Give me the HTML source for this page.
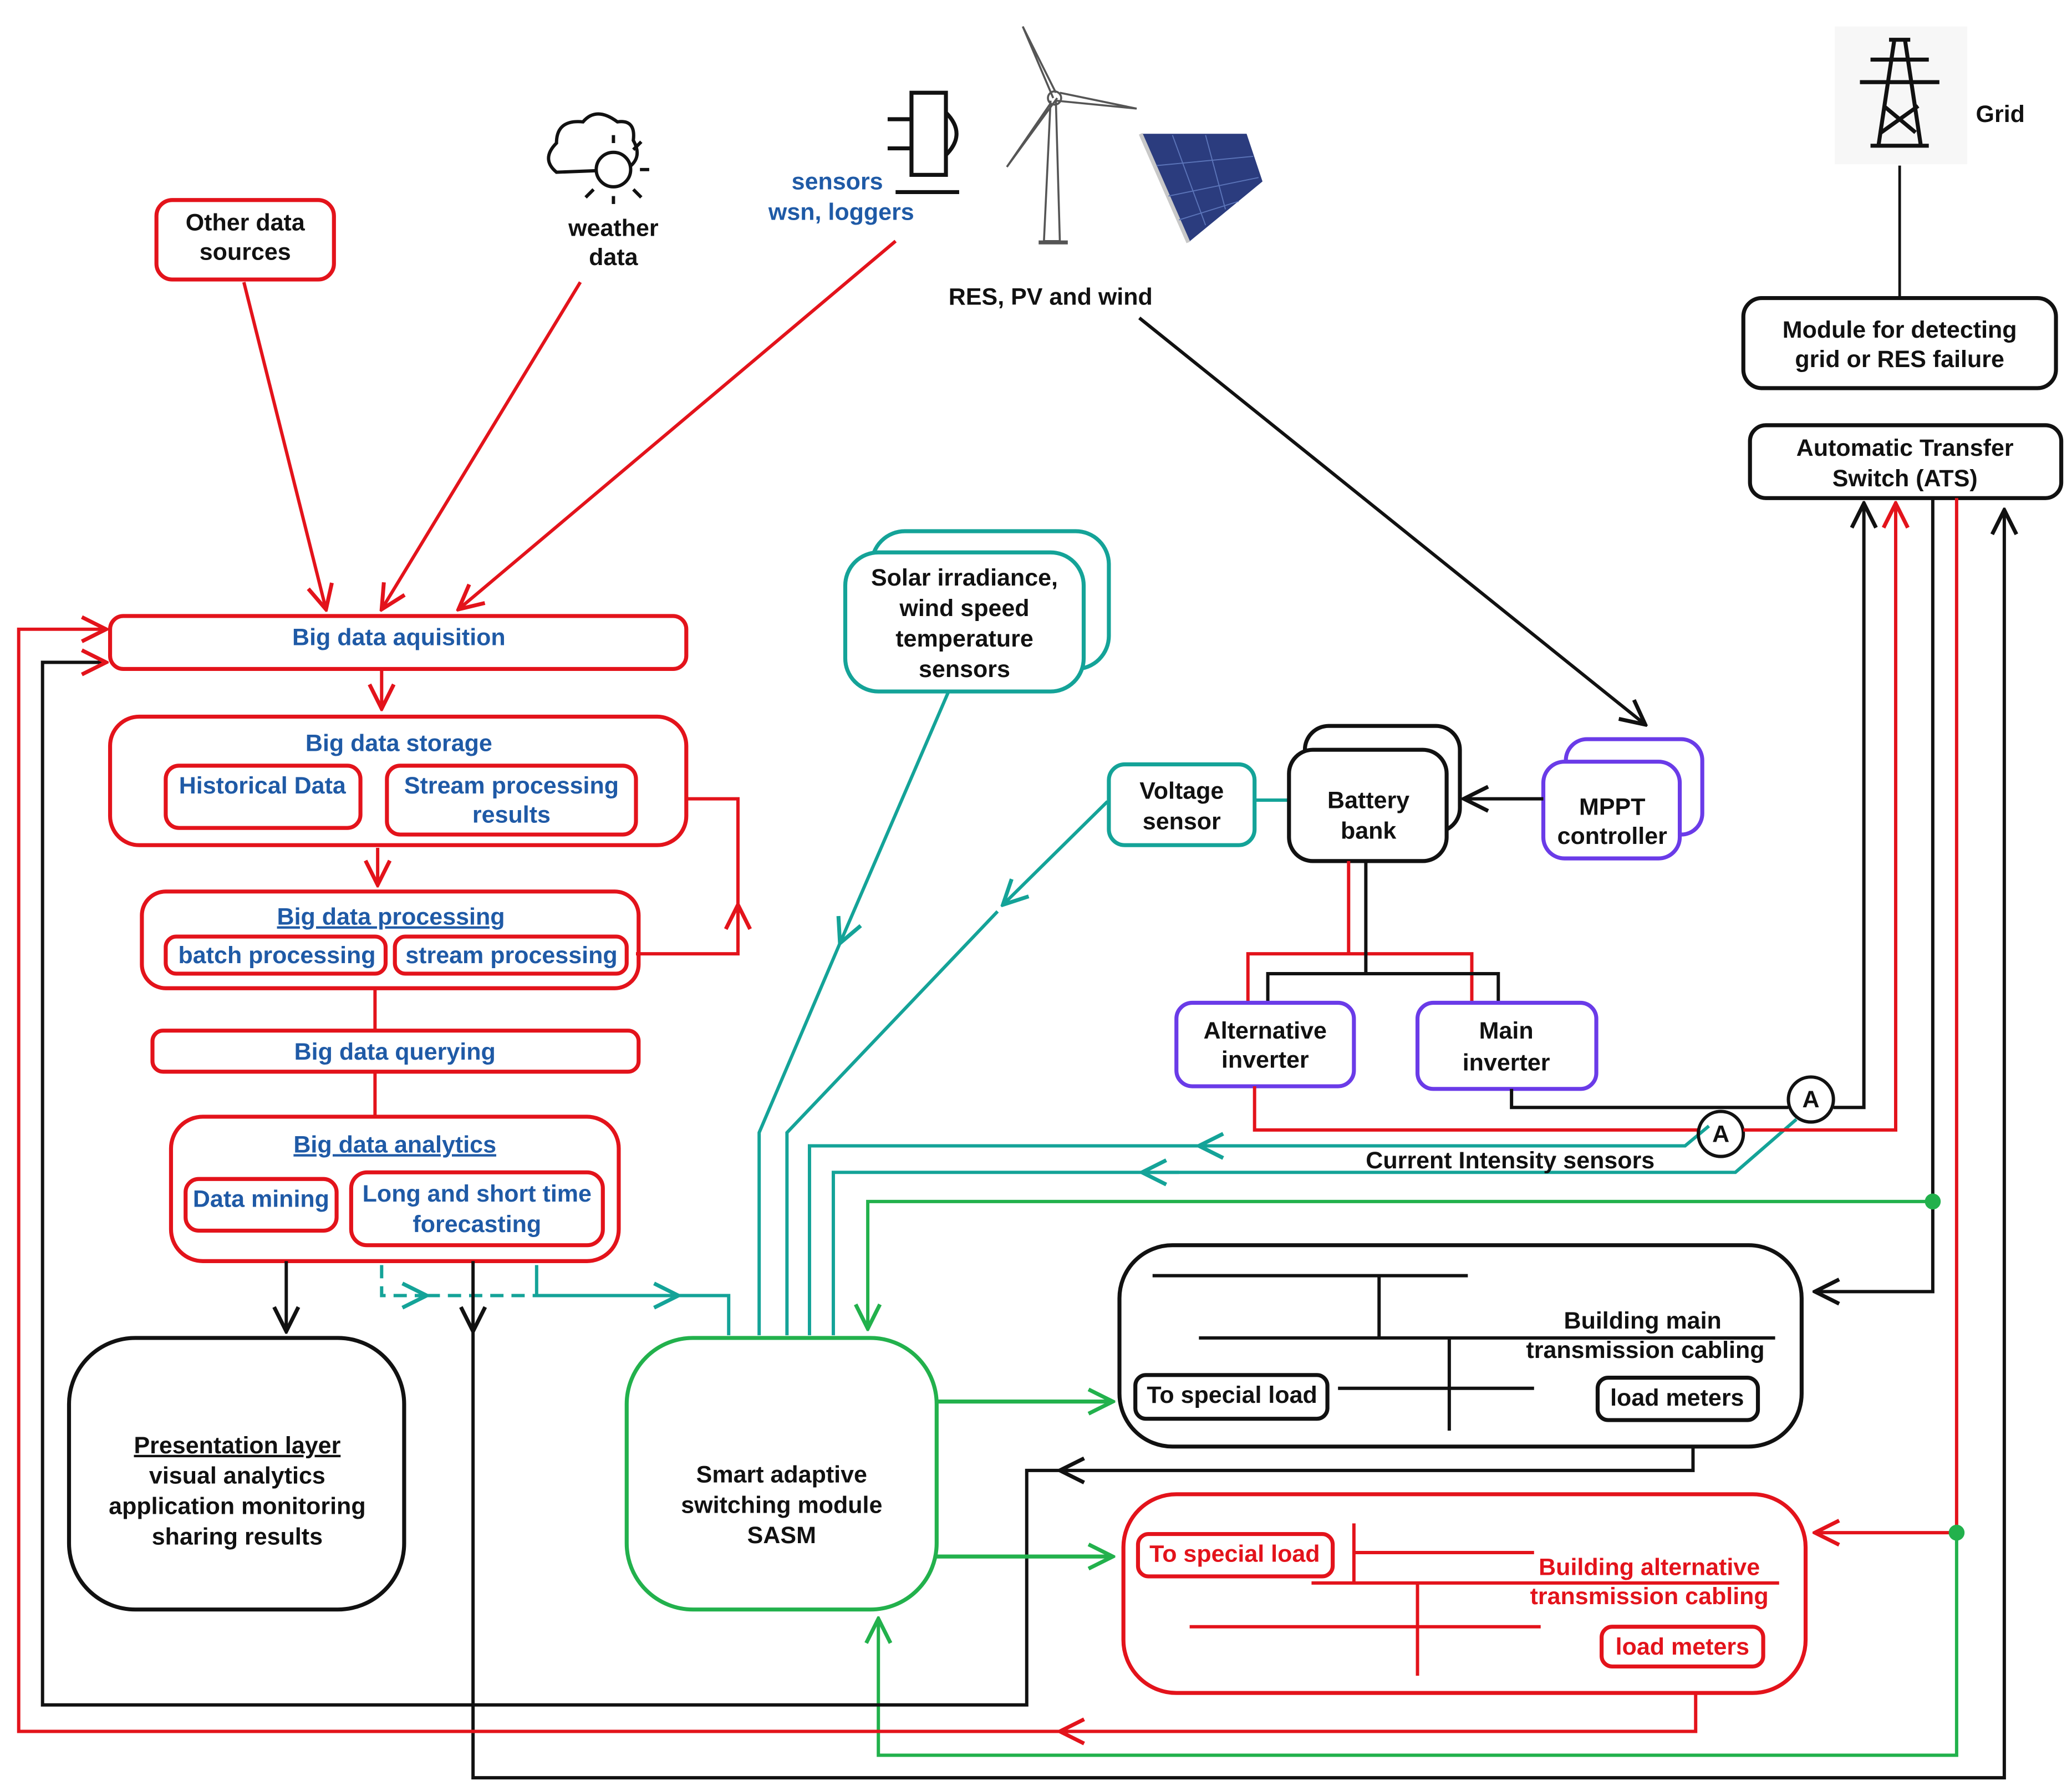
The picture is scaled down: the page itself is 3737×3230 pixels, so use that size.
<!DOCTYPE html>
<html><head><meta charset="utf-8">
<style>
html,body{margin:0;padding:0;background:#fff;}
svg{display:block;}
text{font-family:"Liberation Sans",Arial,sans-serif;font-weight:bold;font-size:18px;text-anchor:middle;}
.b{fill:#1f5aa6;}
.k{fill:#111;}
.r{fill:#e3131b;}
</style></head><body>
<svg width="3737" height="3230" viewBox="0 0 1564 1352" xmlns="http://www.w3.org/2000/svg">
<defs>
<marker id="ar" viewBox="0 0 12 12" refX="11" refY="6" markerWidth="22" markerHeight="22" markerUnits="userSpaceOnUse" orient="auto"><path d="M1,1 L11,6 L1,11" fill="none" stroke="#e3131b" stroke-width="1.6"/></marker>
<marker id="ak" viewBox="0 0 12 12" refX="11" refY="6" markerWidth="22" markerHeight="22" markerUnits="userSpaceOnUse" orient="auto"><path d="M1,1 L11,6 L1,11" fill="none" stroke="#111" stroke-width="1.6"/></marker>
<marker id="at" viewBox="0 0 12 12" refX="11" refY="6" markerWidth="22" markerHeight="22" markerUnits="userSpaceOnUse" orient="auto"><path d="M1,1 L11,6 L1,11" fill="none" stroke="#14a398" stroke-width="1.6"/></marker>
<marker id="ag" viewBox="0 0 12 12" refX="11" refY="6" markerWidth="22" markerHeight="22" markerUnits="userSpaceOnUse" orient="auto"><path d="M1,1 L11,6 L1,11" fill="none" stroke="#22b14c" stroke-width="1.6"/></marker>
</defs>
<g fill="none" stroke-width="3">
<rect x="118" y="151" width="134" height="60" rx="12" stroke="#e3131b"/>
<line x1="184" y1="213" x2="246" y2="460" stroke="#e3131b" stroke-width="2.5" marker-end="url(#ar)"/>
<line x1="438" y1="213" x2="288" y2="460" stroke="#e3131b" stroke-width="2.5" marker-end="url(#ar)"/>
<line x1="676" y1="182" x2="346" y2="460" stroke="#e3131b" stroke-width="2.5" marker-end="url(#ar)"/>
<path d="M420,130 q-12,-10 0,-22 q0,-18 20,-16 q10,-12 26,0 q14,-2 12,14 q8,14 -6,22 z" stroke="#111" stroke-width="2.5"/>
<circle cx="463" cy="128" r="13" stroke="#111" stroke-width="2.5" fill="#fff"/>
<g stroke="#111" stroke-width="2.5"><line x1="463" y1="108" x2="463" y2="102"/><line x1="463" y1="148" x2="463" y2="154"/><line x1="483" y1="128" x2="490" y2="128"/><line x1="478" y1="113" x2="484" y2="107"/><line x1="478" y1="143" x2="484" y2="149"/><line x1="448" y1="143" x2="442" y2="149"/></g>
<rect x="688" y="70" width="26" height="62" stroke="#111"/>
<path d="M714,85 q16,16 0,32" stroke="#111"/>
<line x1="670" y1="90" x2="688" y2="90" stroke="#111"/><line x1="670" y1="112" x2="688" y2="112" stroke="#111"/>
<line x1="676" y1="145" x2="724" y2="145" stroke="#111"/>
<path d="M793,76 L788,182 L800,182 L797,76" stroke="#555" stroke-width="1.5"/>
<path d="M795,74 L772,20 L797,70 M797,76 L858,82 L800,70 M793,78 L760,126 L798,74" stroke="#555" stroke-width="1.5"/>
<circle cx="796" cy="74" r="5" stroke="#555" stroke-width="1.5"/>
<line x1="784" y1="183" x2="806" y2="183" stroke="#555"/>
<path d="M861,101 L941,101 L953,137 L897,183 Z" fill="#2b3c7e" stroke="none"/>
<path d="M861,101 L897,183" stroke="#c8c8c8" stroke-width="3"/>
<g stroke="#5b74b8" stroke-width="0.8"><line x1="873" y1="125" x2="946" y2="118"/><line x1="882" y1="148" x2="950" y2="134"/><line x1="890" y1="166" x2="935" y2="152"/><line x1="885" y1="102" x2="910" y2="170"/><line x1="910" y1="102" x2="925" y2="158"/></g>
<rect x="1385" y="20" width="100" height="104" fill="#f7f7f7" stroke="none"/>
<path d="M1426,30 L1442,30 M1412,45 L1456,45 M1404,62 L1464,62 M1430,30 L1418,110 M1438,30 L1450,110 M1420,100 L1448,80 M1422,80 L1446,100 M1412,110 L1456,110" stroke="#111" stroke-width="3"/>
<line x1="1434" y1="125" x2="1434" y2="225" stroke="#111" stroke-width="2"/>
<rect x="1316" y="225" width="236" height="68" rx="14" stroke="#111"/>
<rect x="1321" y="321" width="235" height="55" rx="12" stroke="#111"/>
<line x1="860" y1="240" x2="1242" y2="547" stroke="#111" stroke-width="2.5" marker-end="url(#ak)"/>
<rect x="83" y="465" width="435" height="40" rx="10" stroke="#e3131b"/>
<line x1="288" y1="505" x2="288" y2="535" stroke="#e3131b" stroke-width="2.5" marker-end="url(#ar)"/>
<rect x="83" y="541" width="435" height="97" rx="22" stroke="#e3131b"/>
<rect x="125" y="578" width="147" height="47" rx="10" stroke="#e3131b"/>
<rect x="292" y="578" width="188" height="52" rx="10" stroke="#e3131b"/>
<polyline points="518,603 557,603 557,720 480,720" stroke="#e3131b" stroke-width="2.5"/>
<line x1="557" y1="715" x2="557" y2="683" stroke="#e3131b" stroke-width="2.5" marker-end="url(#ar)"/>
<line x1="285" y1="640" x2="285" y2="668" stroke="#e3131b" stroke-width="2.5" marker-end="url(#ar)"/>
<rect x="107" y="673" width="375" height="73" rx="18" stroke="#e3131b"/>
<rect x="125" y="707" width="166" height="28" rx="8" stroke="#e3131b"/>
<rect x="298" y="707" width="175" height="28" rx="8" stroke="#e3131b"/>
<line x1="283" y1="746" x2="283" y2="778" stroke="#e3131b" stroke-width="2.5"/>
<rect x="115" y="778" width="367" height="31" rx="8" stroke="#e3131b"/>
<line x1="283" y1="809" x2="283" y2="843" stroke="#e3131b" stroke-width="2.5"/>
<rect x="129" y="843" width="338" height="109" rx="24" stroke="#e3131b"/>
<rect x="140" y="890" width="114" height="39" rx="10" stroke="#e3131b"/>
<rect x="265" y="885" width="190" height="55" rx="12" stroke="#e3131b"/>
<line x1="216" y1="952" x2="216" y2="1005" stroke="#111" stroke-width="2.5" marker-end="url(#ak)"/>
<rect x="52" y="1010" width="253" height="205" rx="50" stroke="#111"/>
<polyline points="288,955 288,978 322,978" stroke="#14a398" stroke-width="2.5" stroke-dasharray="10,6" marker-end="url(#at)"/>
<line x1="322" y1="978" x2="405" y2="978" stroke="#14a398" stroke-width="2.5" stroke-dasharray="10,6"/>
<polyline points="405,955 405,978 512,978" stroke="#14a398" stroke-width="2.5" marker-end="url(#at)"/>
<polyline points="512,978 550,978 550,1008" stroke="#14a398" stroke-width="2.5"/>
<line x1="357" y1="952" x2="357" y2="1005" stroke="#111" stroke-width="2.5" marker-end="url(#ak)"/>
<polyline points="357,1005 357,1342 1513,1342 1513,385" stroke="#111" stroke-width="2.5" marker-end="url(#ak)"/>
<rect x="473" y="1010" width="234" height="205" rx="50" stroke="#22b14c"/>
<rect x="658" y="401" width="179" height="104" rx="25" stroke="#14a398"/>
<rect x="638" y="417" width="180" height="105" rx="25" stroke="#14a398" fill="#fff"/>
<line x1="716" y1="522" x2="634" y2="712" stroke="#14a398" stroke-width="2.5" marker-end="url(#at)"/>
<polyline points="634,712 573,855 573,1008" stroke="#14a398" stroke-width="2.5"/>
<line x1="836" y1="605" x2="757" y2="683" stroke="#14a398" stroke-width="2.5" marker-end="url(#at)"/>
<polyline points="753,688 594,855 594,1008" stroke="#14a398" stroke-width="2.5"/>
<polyline points="1290,850 1272,865 611,865 611,1008" stroke="#14a398" stroke-width="2.5"/>
<line x1="930" y1="865" x2="905" y2="865" stroke="#14a398" stroke-width="2.5" marker-end="url(#at)"/>
<polyline points="1356,845 1310,885 629,885 629,1008" stroke="#14a398" stroke-width="2.5"/>
<line x1="890" y1="885" x2="862" y2="885" stroke="#14a398" stroke-width="2.5" marker-end="url(#at)"/>
<rect x="837" y="577" width="110" height="61" rx="12" stroke="#14a398"/>
<line x1="947" y1="604" x2="973" y2="604" stroke="#14a398" stroke-width="2.5"/>
<rect x="985" y="548" width="117" height="80" rx="18" stroke="#111"/>
<rect x="973" y="566" width="119" height="84" rx="18" stroke="#111" fill="#fff"/>
<rect x="1182" y="558" width="103" height="72" rx="16" stroke="#6a3be8"/>
<rect x="1165" y="575" width="103" height="73" rx="16" stroke="#6a3be8" fill="#fff"/>
<line x1="1165" y1="603" x2="1105" y2="603" stroke="#111" stroke-width="2.5" marker-end="url(#ak)"/>
<polyline points="1018,650 1018,720" stroke="#e3131b" stroke-width="2.5"/>
<polyline points="942,757 942,720 1111,720 1111,757" stroke="#e3131b" stroke-width="2.5"/>
<polyline points="1031,650 1031,735" stroke="#111" stroke-width="2.5"/>
<polyline points="957,757 957,735 1131,735 1131,757" stroke="#111" stroke-width="2.5"/>
<rect x="888" y="757" width="134" height="63" rx="12" stroke="#6a3be8"/>
<rect x="1070" y="757" width="135" height="65" rx="12" stroke="#6a3be8"/>
<polyline points="1141,822 1141,836 1350,836" stroke="#111" stroke-width="2.5"/>
<circle cx="1367" cy="830" r="17" stroke="#111" stroke-width="2.5"/>
<polyline points="1384,836 1407,836 1407,380" stroke="#111" stroke-width="2.5" marker-end="url(#ak)"/>
<polyline points="947,820 947,853 1282,853" stroke="#e3131b" stroke-width="2.5"/>
<circle cx="1299" cy="856" r="17" stroke="#111" stroke-width="2.5"/>
<polyline points="1316,853 1431,853 1431,380" stroke="#e3131b" stroke-width="2.5" marker-end="url(#ar)"/>
<polyline points="1459,376 1459,975 1370,975" stroke="#111" stroke-width="2.5" marker-end="url(#ak)"/>
<polyline points="1459,907 655,907 655,1003" stroke="#22b14c" stroke-width="2.5" marker-end="url(#ag)"/>
<polyline points="1477,376 1477,1157" stroke="#e3131b" stroke-width="2.5"/>
<line x1="1477" y1="1157" x2="1370" y2="1157" stroke="#e3131b" stroke-width="2.5" marker-end="url(#ar)"/>
<polyline points="1477,1157 1477,1325 663,1325 663,1222" stroke="#22b14c" stroke-width="2.5" marker-end="url(#ag)"/>
<rect x="845" y="940" width="515" height="152" rx="40" stroke="#111"/>
<g stroke="#111" stroke-width="2.5">
<line x1="870" y1="963" x2="1108" y2="963"/><line x1="1041" y1="963" x2="1041" y2="1010"/>
<line x1="905" y1="1010" x2="1340" y2="1010"/><line x1="1094" y1="1010" x2="1094" y2="1080"/>
<line x1="1010" y1="1048" x2="1158" y2="1048"/></g>
<rect x="857" y="1038" width="145" height="33" rx="8" stroke="#111"/>
<rect x="1206" y="1040" width="121" height="32" rx="8" stroke="#111"/>
<polyline points="1278,1092 1278,1110 800,1110" stroke="#111" stroke-width="2.5" marker-end="url(#ak)"/>
<polyline points="800,1110 775,1110 775,1287 32,1287 32,500 80,500" stroke="#111" stroke-width="2.5" marker-end="url(#ar)"/>
<rect x="848" y="1128" width="515" height="150" rx="40" stroke="#e3131b"/>
<g stroke="#e3131b" stroke-width="2.5">
<line x1="1022" y1="1150" x2="1022" y2="1195"/><line x1="1022" y1="1172" x2="1158" y2="1172"/>
<line x1="990" y1="1195" x2="1343" y2="1195"/><line x1="898" y1="1228" x2="1163" y2="1228"/>
<line x1="1070" y1="1195" x2="1070" y2="1265"/></g>
<rect x="859" y="1158" width="147" height="32" rx="8" stroke="#e3131b"/>
<rect x="1209" y="1228" width="122" height="30" rx="8" stroke="#e3131b"/>
<polyline points="1280,1278 1280,1307 800,1307" stroke="#e3131b" stroke-width="2.5" marker-end="url(#ar)"/>
<polyline points="800,1307 14,1307 14,475 80,475" stroke="#e3131b" stroke-width="2.5" marker-end="url(#ar)"/>
<line x1="707" y1="1058" x2="840" y2="1058" stroke="#22b14c" stroke-width="3" marker-end="url(#ag)"/>
<line x1="707" y1="1175" x2="840" y2="1175" stroke="#22b14c" stroke-width="3" marker-end="url(#ag)"/>
</g>
<circle cx="1459" cy="907" r="6" fill="#22b14c"/>
<circle cx="1477" cy="1157" r="6" fill="#22b14c"/>
<text class="k" x="185" y="174">Other data</text><text class="k" x="185" y="196">sources</text>
<text class="k" x="463" y="178">weather</text><text class="k" x="463" y="200">data</text>
<text class="b" x="632" y="143">sensors</text><text class="b" x="635" y="166">wsn, loggers</text>
<text class="k" x="793" y="230">RES, PV and wind</text>
<text class="k" x="1510" y="92">Grid</text>
<text class="k" x="1434" y="255">Module for detecting</text><text class="k" x="1434" y="277">grid or RES failure</text>
<text class="k" x="1438" y="344">Automatic Transfer</text><text class="k" x="1438" y="367">Switch (ATS)</text>
<text class="b" x="301" y="487">Big data aquisition</text>
<text class="b" x="301" y="567">Big data storage</text>
<text class="b" x="198" y="599">Historical Data</text>
<text class="b" x="386" y="599">Stream processing</text><text class="b" x="386" y="621">results</text>
<text class="b" x="295" y="698" text-decoration="underline">Big data processing</text>
<text class="b" x="209" y="727">batch processing</text><text class="b" x="386" y="727">stream processing</text>
<text class="b" x="298" y="800">Big data querying</text>
<text class="b" x="298" y="870" text-decoration="underline">Big data analytics</text>
<text class="b" x="197" y="911">Data mining</text>
<text class="b" x="360" y="907">Long and short time</text><text class="b" x="360" y="930">forecasting</text>
<text class="k" x="179" y="1097" text-decoration="underline">Presentation layer</text>
<text class="k" x="179" y="1120">visual analytics</text><text class="k" x="179" y="1143">application monitoring</text><text class="k" x="179" y="1166">sharing results</text>
<text class="k" x="590" y="1119">Smart adaptive</text><text class="k" x="590" y="1142">switching module</text><text class="k" x="590" y="1165">SASM</text>
<text class="k" x="728" y="442">Solar irradiance,</text><text class="k" x="728" y="465">wind speed</text><text class="k" x="728" y="488">temperature</text><text class="k" x="728" y="511">sensors</text>
<text class="k" x="892" y="603">Voltage</text><text class="k" x="892" y="626">sensor</text>
<text class="k" x="1033" y="610">Battery</text><text class="k" x="1033" y="633">bank</text>
<text class="k" x="1217" y="615">MPPT</text><text class="k" x="1217" y="637">controller</text>
<text class="k" x="955" y="784">Alternative</text><text class="k" x="955" y="806">inverter</text>
<text class="k" x="1137" y="784">Main</text><text class="k" x="1137" y="808">inverter</text>
<text class="k" x="1367" y="836">A</text><text class="k" x="1299" y="862">A</text>
<text class="k" x="1140" y="882">Current Intensity sensors</text>
<text class="k" x="1240" y="1003">Building main</text><text class="k" x="1242" y="1025">transmission cabling</text>
<text class="k" x="930" y="1059">To special load</text><text class="k" x="1266" y="1061">load meters</text>
<text class="r" x="1245" y="1189">Building alternative</text><text class="r" x="1245" y="1211">transmission cabling</text>
<text class="r" x="932" y="1179">To special load</text><text class="r" x="1270" y="1249">load meters</text>
</svg>
</body></html>
